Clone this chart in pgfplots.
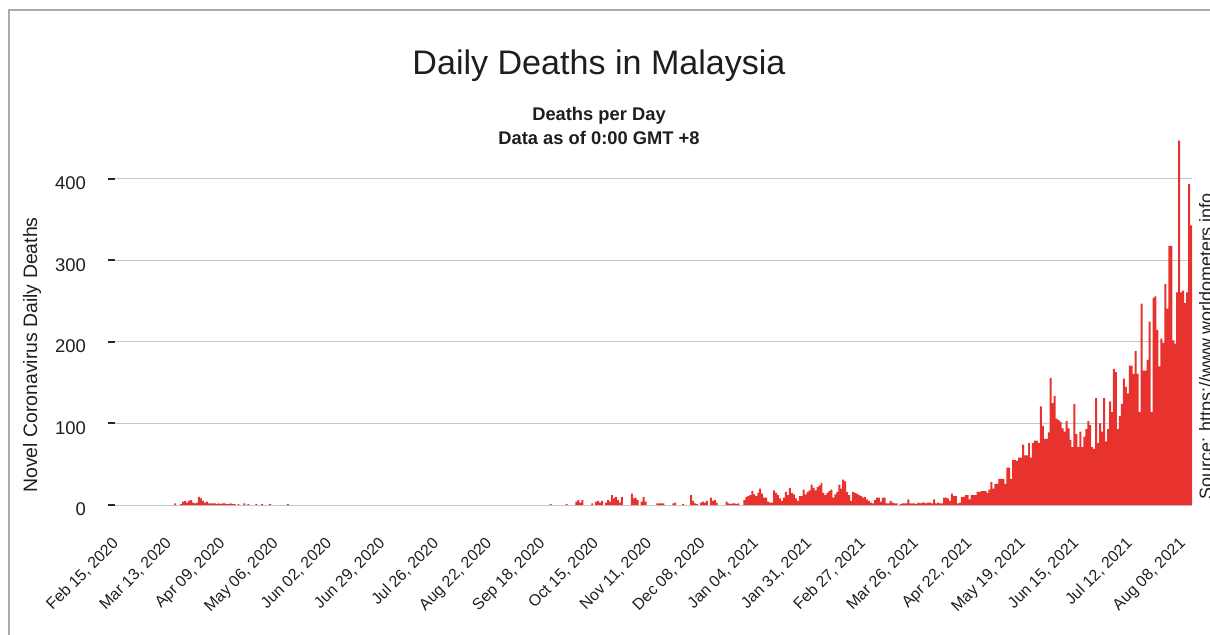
\documentclass[border=0pt]{standalone}
\usepackage{fontspec}
\setmainfont{Liberation Sans}
\usepackage{pgfplots}
\pgfplotsset{compat=1.18}
\definecolor{barred}{RGB}{232,50,45}
\definecolor{gridgray}{RGB}{198,198,198}
\definecolor{framegray}{RGB}{170,170,170}
\definecolor{txt}{RGB}{30,30,30}
\begin{document}
\begin{tikzpicture}
\useasboundingbox (0bp,0bp) rectangle (1210bp,635bp);
\draw[framegray, line width=1.3bp] (9bp,0bp) -- (9bp,625bp) -- (1210bp,625bp);
\node[font=\fontsize{34.2}{40}\selectfont, anchor=base, txt, inner sep=0pt] at (599bp,560bp) {Daily Deaths in Malaysia};
\node[font=\bfseries\fontsize{18.4}{20}\selectfont, anchor=base, txt, inner sep=0pt] at (599bp,514bp) {Deaths per Day};
\node[font=\bfseries\fontsize{18.4}{20}\selectfont, anchor=base, txt, inner sep=0pt] at (599bp,490bp) {Data as of 0:00 GMT +8};
\node[font=\fontsize{19.5}{21}\selectfont, rotate=90, anchor=base, txt, inner sep=0pt] at (37bp,280bp) {Novel Coronavirus Daily Deaths};
\node[font=\fontsize{18}{20}\selectfont, rotate=90, anchor=base west, txt, inner sep=0pt] at (1212bp,135bp) {Source: https://www.worldometers.info};
\begin{axis}[
  at={(113bp,130bp)}, anchor=south west,
  scale only axis, width=1079bp, height=366.75bp,
  xmin=-0.5, xmax=545.5, ymin=0, ymax=450,
  axis x line*=bottom, axis y line*=left,
  axis line style={draw=none},
  ytick={0,100,200,300,400},
  ymajorgrids, grid style={gridgray, line width=1bp},
  tick align=outside, major tick length=7bp,
  ytick style={draw=black!85, line width=2bp, xshift=2bp},
  xtick={0,27,...,540},
  xtick style={draw=none},
  xticklabels={{Feb 15, 2020},{Mar 13, 2020},{Apr 09, 2020},{May 06, 2020},{Jun 02, 2020},{Jun 29, 2020},{Jul 26, 2020},{Aug 22, 2020},{Sep 18, 2020},{Oct 15, 2020},{Nov 11, 2020},{Dec 08, 2020},{Jan 04, 2021},{Jan 31, 2021},{Feb 27, 2021},{Mar 26, 2021},{Apr 22, 2021},{May 19, 2021},{Jun 15, 2021},{Jul 12, 2021},{Aug 08, 2021}},
  xticklabel style={font=\fontsize{16}{18}\selectfont, txt, inner sep=0pt, xshift=-3bp, yshift=-24bp, rotate=45, anchor=north east},
  yticklabel style={font=\fontsize{18.5}{20}\selectfont, txt, inner sep=0pt, anchor=east, xshift=-20bp, yshift=-4.5bp},
  /pgf/number format/assume math mode=true,
  clip=false,
]
\addplot[ybar, bar width=1, fill=barred, draw=none] table[x=d, y=v] {
d v
31 2
34 1
35 4
36 5
37 3
38 5
39 6
40 3
41 2
42 3
43 10
44 8
45 5
46 3
47 4
48 2
49 2
50 2
51 2
52 1
53 2
54 1
55 2
56 2
57 1
58 1
59 2
60 1
61 1
63 1
66 2
68 1
72 1
75 1
79 1
88 1
221 1
229 1
234 4
235 6
236 3
237 6
242 2
244 4
245 5
246 3
247 5
249 3
250 6
251 4
252 12
253 8
254 10
255 6
256 3
257 10
262 14
263 8
264 9
265 6
267 4
268 10
269 4
275 2
276 2
277 2
278 2
283 2
284 3
288 1
292 12
293 5
294 2
295 1
297 3
298 4
299 3
300 5
302 9
303 5
304 6
305 3
310 4
311 2
312 1
313 2
314 2
315 1
316 2
319 6
320 10
321 11
322 12
323 17
324 13
325 11
326 15
327 20
328 14
329 9
330 9
331 4
332 3
333 3
334 18
335 15
336 12
337 8
338 5
339 9
340 16
341 12
342 21
343 15
344 13
345 8
346 5
347 11
348 11
349 19
350 13
351 16
352 18
353 25
354 21
355 18
356 22
357 24
358 27
359 15
360 12
361 15
362 17
363 19
364 9
365 13
366 16
367 25
368 20
369 31
370 29
371 16
372 12
373 5
374 16
375 15
376 14
377 12
378 11
379 9
380 10
381 7
382 5
383 3
384 2
385 6
386 9
387 9
388 4
389 9
390 9
391 2
392 2
393 5
394 3
395 2
396 2
398 1
399 2
400 2
401 2
402 7
403 2
404 2
405 2
406 1
407 3
408 2
409 3
410 3
411 2
412 3
413 3
414 2
415 7
416 2
417 3
418 2
419 2
420 9
421 9
422 8
423 5
424 14
425 11
426 11
427 2
428 3
429 10
430 10
431 12
432 12
433 7
434 12
435 12
436 12
437 16
438 16
439 17
440 17
441 17
442 15
443 19
444 28
445 20
446 26
447 26
448 32
449 32
450 32
451 26
452 46
453 46
454 32
455 55
456 55
457 54
458 58
459 58
460 74
461 61
462 61
463 76
464 58
465 76
466 79
467 79
468 76
469 121
470 97
471 81
472 81
473 89
474 156
475 125
476 134
477 106
478 104
479 102
480 94
481 90
482 103
483 94
484 80
485 71
486 124
487 87
488 71
489 90
490 71
491 84
492 93
493 103
494 98
495 71
496 69
497 131
498 76
499 100
500 90
501 131
502 78
503 93
504 127
505 114
506 167
507 163
508 93
509 109
510 124
511 155
512 145
513 137
514 171
515 171
516 161
517 189
518 161
519 114
520 247
521 165
522 165
523 178
524 225
525 114
526 254
527 256
528 215
529 170
530 204
531 199
532 271
533 241
534 318
535 318
536 202
537 198
538 261
539 447
540 261
541 263
542 248
543 261
544 394
545 343
};
\end{axis}
\end{tikzpicture}
\end{document}
